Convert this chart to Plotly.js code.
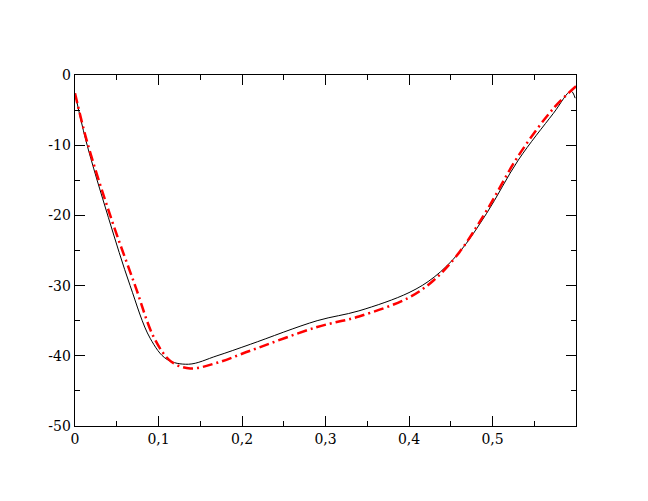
<!DOCTYPE html>
<html>
<head>
<meta charset="utf-8">
<script src="https://cdn.plot.ly/plotly-3.0.1.min.js"></script>
<style>html,body{margin:0;padding:0;background:#fff;}#plot{width:648px;height:501px;}</style>
</head>
<body>
<div id="plot"></div>
<script>
const blackX = [0, 0.013, 0.04, 0.066, 0.09, 0.11, 0.136, 0.17, 0.21, 0.29, 0.34, 0.40, 0.43, 0.46, 0.493, 0.531, 0.573, 0.594, 0.599];
const blackY = [-2.6, -9.3, -20.3, -30, -37.5, -40.5, -41.2, -40.0, -38.36, -35.0, -33.6, -31.0, -28.8, -25.3, -19.7, -12.1, -5.45, -2.3, -3.3];
const redX = [0, 0.014, 0.043, 0.072, 0.095, 0.115, 0.138, 0.17, 0.21, 0.29, 0.34, 0.40, 0.43, 0.46, 0.493, 0.531, 0.573, 0.6];
const redY = [-2.6, -9.3, -20.3, -30, -37.5, -40.8, -41.8, -41.0, -39.27, -35.9, -34.4, -31.7, -29.2, -25.3, -19.3, -11.5, -4.75, -1.6];
const xTickVals = [0, 0.1, 0.2, 0.3, 0.4, 0.5];
const xTickText = ["0", "0,1", "0,2", "0,3", "0,4", "0,5"];
const yTickVals = [-50, -40, -30, -20, -10, 0];
const yTickText = ["-50", "-40", "-30", "-20", "-10", "0"];

const traces = [
  {x: blackX, y: blackY, mode: 'lines', line: {color: '#000', width: 1, shape: 'spline', smoothing: 1}},
  {x: redX, y: redY, mode: 'lines', line: {color: '#ff0000', width: 2.5, shape: 'spline', smoothing: 1, dash: '10px,4px,2px,4px'}}
];
const font = {family: 'DejaVu Serif', size: 14, color: '#000'};
const axisCommon = {
  showgrid: false, zeroline: false, showline: true, linecolor: '#000', linewidth: 1.3,
  mirror: 'ticks', ticks: 'inside', ticklen: 10, tickwidth: 1, tickcolor: '#000',
  tickmode: 'array', tickfont: font
};
const layout = {
  width: 648, height: 501,
  margin: {l: 75, r: 72, t: 75, b: 75},
  paper_bgcolor: '#fff', plot_bgcolor: '#fff',
  showlegend: false,
  font: font,
  separators: ',.',
  xaxis: Object.assign({}, axisCommon, {range: [0, 0.6], tickvals: xTickVals, ticktext: xTickText,
    minor: {dtick: 0.05, tick0: 0, ticks: 'inside', ticklen: 5, tickwidth: 1, tickcolor: '#000'}}),
  yaxis: Object.assign({}, axisCommon, {range: [-50, 0], tickvals: yTickVals, ticktext: yTickText,
    minor: {dtick: 5, tick0: 0, ticks: 'inside', ticklen: 5, tickwidth: 1, tickcolor: '#000'}})
};
Plotly.newPlot('plot', traces, layout, {staticPlot: true, displayModeBar: false});
</script>
</body>
</html>
